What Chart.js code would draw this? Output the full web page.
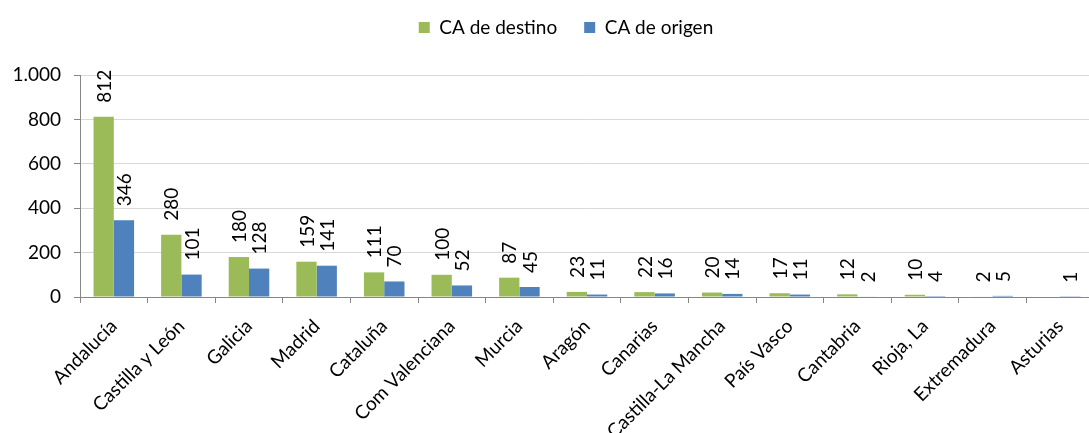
<!DOCTYPE html>
<html><head><meta charset="utf-8">
<script src="https://cdn.jsdelivr.net/npm/chart.js@4/dist/chart.umd.min.js"></script>
<style>html,body{margin:0;padding:0;background:#fff;overflow:hidden}#wrap{width:1089px;height:433px;overflow:hidden}</style>
</head><body><div id="wrap"><canvas id="c" width="1096" height="433"></canvas></div>
<script>
const categories = ["Andalucía","Castilla y León","Galicia","Madrid","Cataluña","Com Valenciana","Murcia","Aragón","Canarias","Castilla-La Mancha","País Vasco","Cantabria","Rioja, La","Extremadura","Asturias"];
const destino = [812,280,180,159,111,100,87,23,22,20,17,12,10,2,null];
const origen = [346,101,128,141,70,52,45,11,16,14,11,2,4,5,1];
const yTicks = [0,200,400,600,800,1000];

const FONT = "Lato";
const fmt = v => v.toString().replace(/\B(?=(\d{3})+(?!\d))/g, ".");

const labelPlugin = {
  id: 'vlabels',
  afterDatasetsDraw(chart) {
    const ctx = chart.ctx;
    chart.data.datasets.forEach((ds, i) => {
      const meta = chart.getDatasetMeta(i);
      meta.data.forEach((bar, j) => {
        const v = ds.data[j];
        if (v === null || v === undefined) return;
        ctx.save();
        ctx.translate(bar.x, bar.y - 14);
        ctx.rotate(-Math.PI / 2);
        ctx.font = "19px " + FONT;
        ctx.fillStyle = "#000";
        ctx.textAlign = "left";
        ctx.textBaseline = "middle";
        ctx.fillText(fmt(v), 0, 1);
        ctx.restore();
      });
    });
  }
};

const legendTweak = {
  id: 'legendTweak',
  beforeInit(chart) {
    const lg = chart.legend;
    const fit = lg.fit;
    lg.fit = function() { fit.call(this); this.height = 70; };
    const draw = lg.draw;
    lg.draw = function() {
      const ctx = this.ctx;
      ctx.save();
      ctx.translate(19, -14);
      draw.call(this);
      ctx.restore();
    };
  }
};

new Chart(document.getElementById('c'), {
  type: 'bar',
  data: {
    labels: categories,
    datasets: [
      { label: 'CA de destino', data: destino, backgroundColor: '#9BBB59', barPercentage: 1, categoryPercentage: 0.6 },
      { label: 'CA de origen', data: origen, backgroundColor: '#4F81BD', barPercentage: 1, categoryPercentage: 0.6 }
    ]
  },
  options: {
    responsive: false,
    animation: false,
    layout: { padding: { top: 5, left: 0, right: 2, bottom: 0 } },
    plugins: {
      tooltip: { enabled: false },
      legend: {
        position: 'top',
        labels: { boxWidth: 11, boxHeight: 11, padding: 27, color: '#000', font: { family: FONT, size: 19 } }
      }
    },
    scales: {
      x: {
        grid: { display: true, drawOnChartArea: false, drawTicks: true, tickLength: 6, color: '#868686', offset: true },
        border: { color: '#868686' },
        ticks: { minRotation: 45, maxRotation: 45, autoSkip: false, color: '#000', font: { family: FONT, size: 19 }, padding: 12 },
        afterFit(s) { s.height = 136; }
      },
      y: {
        min: 0, max: 1000,
        afterBuildTicks(s) { s.ticks = yTicks.map(v => ({ value: v })); },
        grid: { color: '#D9D9D9', tickLength: 6, tickColor: '#868686' },
        border: { color: '#868686' },
        ticks: { color: '#000', font: { family: FONT, size: 19 }, padding: 13, callback: v => fmt(v) },
        afterFit(s) { s.width = 80; }
      }
    }
  },
  plugins: [labelPlugin, legendTweak]
});
</script></body></html>
